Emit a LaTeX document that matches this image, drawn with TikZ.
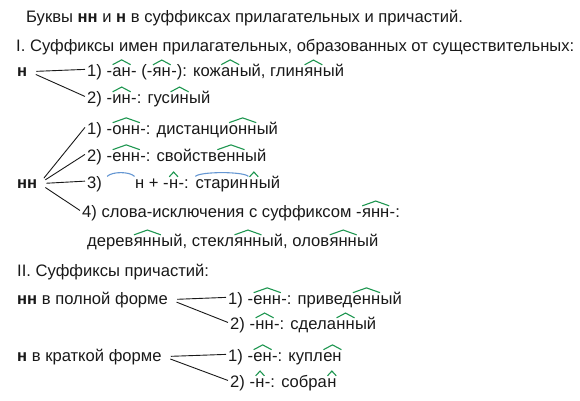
\documentclass[tikz,border=0pt]{standalone}
\usepackage{fontspec}
\setmainfont{Liberation Sans}
\usetikzlibrary{calc}
\definecolor{sfxgreen}{RGB}{30,150,80}
\definecolor{rootblue}{RGB}{100,150,210}
\definecolor{txtgray}{RGB}{25,25,25}

\tikzset{
  sfxline/.style={draw=sfxgreen, line width=1.1pt, line join=miter},
  rootline/.style={draw=rootblue, line width=1.1pt},
  txt/.style={anchor=base west, inner sep=2pt, font=\fontsize{16.6}{19}\selectfont, text=txtgray},
  branch/.style={draw=txtgray, line width=0.9pt, shorten <=7pt},
}

% suffix mark (green roof) over #1
\newcommand\sfx[1]{\tikz[baseline=(sx.base)]{\node[inner sep=0pt, anchor=base] (sx) {#1};
  \draw[sfxline] ($(sx.north west)+(0.4pt,2.2pt)$) -- ($(sx.north)+(0pt,7pt)$) -- ($(sx.north east)+(-0.4pt,2.2pt)$);}}
% root mark (blue arc) over #1
\newcommand\rootarc[1]{\tikz[baseline=(sr.base)]{\node[inner sep=0pt, anchor=base] (sr) {\vphantom{с}#1};
  \draw[rootline] ($(sr.north west)+(0pt,2.5pt)$) .. controls ($(sr.north west)+(5pt,7.5pt)$) and ($(sr.north east)+(-5pt,7.5pt)$) .. ($(sr.north east)+(0pt,2.5pt)$);}}

\begin{document}
\begin{tikzpicture}[x=1pt, y=-1pt]
\useasboundingbox (0,0) rectangle (580,400);

% headings
\node[txt] (title) at (24,22) {Буквы \textbf{нн} и \textbf{н} в суффиксах прилагательных и причастий.};
\node[txt] (adj) at (14,51) {I. Суффиксы имен прилагательных, образованных от существительных:};

% single н
\node[txt] (n1) at (15,76) {\textbf{н}};
\node[txt] (n1a) at (85,76) {1) -\sfx{ан}- (-\sfx{ян}-): кож\sfx{ан}ый, глин\sfx{ян}ый};
\node[txt] (n1b) at (85,103) {2) -\sfx{ин}-: гус\sfx{ин}ый};
\draw[branch] (n1.east) -- (n1a.west);
\draw[branch] (n1.east) -- (n1b.west);

% double нн
\node[txt] (nn1) at (15,188) {\textbf{нн}};
\node[txt] (nn1a) at (85,134) {1) -\sfx{онн}-: дистанци\sfx{онн}ый};
\node[txt] (nn1b) at (85,161) {2) -\sfx{енн}-: свойств\sfx{енн}ый};
\node[txt] (nn1c) at (85,188) {3) \rootarc{\makebox[27pt]{}}н + -\sfx{н}-: \rootarc{старин}\sfx{н}ый};
\node[txt] (nn1d) at (80,217) {4) слова-исключения с суффиксом -\sfx{янн}-:};
\node[txt] (nn1e) at (85,246) {дерев\sfx{янн}ый, стекл\sfx{янн}ый, олов\sfx{янн}ый};
\foreach \leaf in {nn1a,nn1b,nn1c,nn1d}
  \draw[branch] (nn1.east) -- (\leaf.west);

% participles
\node[txt] (part) at (15,276) {II. Суффиксы причастий:};
\node[txt] (nn2) at (15,304) {\textbf{нн} в полной форме};
\node[txt] (nn2a) at (226,304) {1) -\sfx{енн}-: привед\sfx{енн}ый};
\node[txt] (nn2b) at (228,329) {2) -\sfx{нн}-: сдела\sfx{нн}ый};
\draw[branch] (nn2.east) -- (nn2a.west);
\draw[branch] (nn2.east) -- (nn2b.west);

\node[txt] (n2) at (15,361) {\textbf{н} в краткой форме};
\node[txt] (n2a) at (226,361) {1) -\sfx{ен}-: купл\sfx{ен}};
\node[txt] (n2b) at (228,387) {2) -\sfx{н}-: собра\sfx{н}};
\draw[branch] (n2.east) -- (n2a.west);
\draw[branch] (n2.east) -- (n2b.west);
\end{tikzpicture}
\end{document}
